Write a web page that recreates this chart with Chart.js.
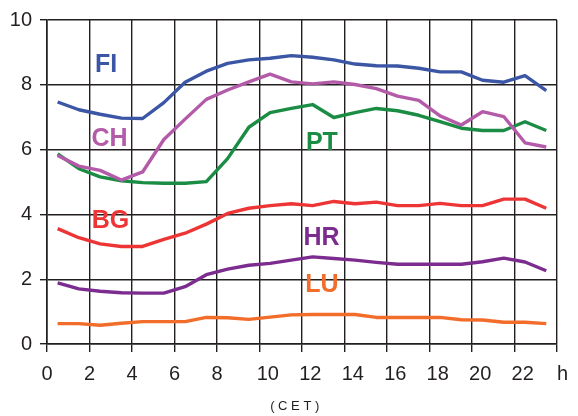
<!DOCTYPE html>
<html>
<head>
<meta charset="utf-8">
<script src="https://cdn.jsdelivr.net/npm/chart.js@4/dist/chart.umd.min.js"></script>
<style>
    html, body { margin: 0; padding: 0; background: #fff; }
    #wrap { width: 578px; height: 416px; }
</style>
</head>
<body>
<div id="wrap"><canvas id="loadChart" width="578" height="416"></canvas></div>
<script>
// Hourly values (h, CET)
const hours = [0.5, 1.5, 2.5, 3.5, 4.5, 5.5, 6.5, 7.5, 8.5, 9.5, 10.5, 11.5,
               12.5, 13.5, 14.5, 15.5, 16.5, 17.5, 18.5, 19.5, 20.5, 21.5, 22.5, 23.5];

const fi = [7.47, 7.23, 7.09, 6.97, 6.96, 7.45, 8.08, 8.42, 8.66, 8.77, 8.82, 8.90,
            8.85, 8.77, 8.64, 8.59, 8.58, 8.51, 8.40, 8.40, 8.14, 8.08, 8.28, 7.82];
const ch = [5.82, 5.49, 5.36, 5.06, 5.31, 6.31, 6.94, 7.55, 7.84, 8.09, 8.33, 8.09,
            8.03, 8.09, 8.01, 7.88, 7.65, 7.52, 7.04, 6.76, 7.17, 7.02, 6.21, 6.08];
const pt = [5.87, 5.41, 5.16, 5.04, 4.98, 4.96, 4.96, 5.01, 5.72, 6.69, 7.14, 7.27,
            7.39, 6.99, 7.14, 7.27, 7.20, 7.06, 6.86, 6.66, 6.59, 6.59, 6.86, 6.59];
const bg = [3.56, 3.28, 3.09, 3.01, 3.01, 3.23, 3.42, 3.70, 4.03, 4.19, 4.27, 4.33,
            4.27, 4.40, 4.33, 4.38, 4.27, 4.27, 4.34, 4.27, 4.27, 4.47, 4.47, 4.19];
const hr = [1.89, 1.70, 1.63, 1.58, 1.57, 1.57, 1.77, 2.14, 2.31, 2.43, 2.49, 2.59,
            2.69, 2.64, 2.59, 2.52, 2.46, 2.46, 2.46, 2.46, 2.54, 2.65, 2.53, 2.26];
const lu = [0.63, 0.63, 0.58, 0.64, 0.69, 0.69, 0.69, 0.82, 0.81, 0.76, 0.83, 0.90,
            0.91, 0.91, 0.91, 0.82, 0.82, 0.82, 0.82, 0.75, 0.74, 0.67, 0.67, 0.63];

const xTicks = [0, 2, 4, 6, 8, 10, 12, 14, 16, 18, 20, 22, 24];
const yTicks = [0, 2, 4, 6, 8, 10];

const series = [
    { name: 'FI', values: fi, color: '#3A56A5' },
    { name: 'CH', values: ch, color: '#B35AA8' },
    { name: 'PT', values: pt, color: '#1A8C44' },
    { name: 'BG', values: bg, color: '#EE3536' },
    { name: 'HR', values: hr, color: '#7B2C8E' },
    { name: 'LU', values: lu, color: '#F26C2A' }
];

// where each country name sits, in chart units (hour, value)
const nameSpots = { FI: [2.78, 8.64], CH: [2.94, 6.34], PT: [12.94, 6.23],
                    BG: [2.99, 3.83], HR: [12.92, 3.30], LU: [12.94, 1.85] };

const gridColor = '#231F20';
const font = 'Liberation Sans, Arial, sans-serif';

const seriesNames = {
    id: 'seriesNames',
    afterDatasetsDraw(chart) {
        const ctx = chart.ctx;
        const xs = chart.scales.x, ys = chart.scales.y;
        ctx.save();
        ctx.font = 'bold 25px ' + font;
        ctx.textAlign = 'center';
        ctx.textBaseline = 'middle';
        series.forEach(s => {
            const p = nameSpots[s.name];
            ctx.fillStyle = s.color;
            ctx.fillText(s.name, xs.getPixelForValue(p[0]), ys.getPixelForValue(p[1]) + 1);
        });
        ctx.restore();
    }
};

const ctx = document.getElementById('loadChart').getContext('2d');
new Chart(ctx, {
    type: 'line',
    data: {
        datasets: series.map(s => ({
            label: s.name,
            data: hours.map((h, i) => ({ x: h, y: s.values[i] })),
            borderColor: s.color,
            backgroundColor: s.color,
            borderWidth: 3.4,
            pointRadius: 0,
            tension: 0,
            borderJoinStyle: 'round',
            borderCapStyle: 'butt',
            fill: false
        }))
    },
    options: {
        responsive: false,
        animation: false,
        devicePixelRatio: 1,
        layout: { padding: { top: 17, right: 15, bottom: 0, left: 0 } },
        plugins: {
            legend: { display: false },
            tooltip: { enabled: false }
        },
        scales: {
            x: {
                type: 'linear',
                min: 0,
                max: 24,
                afterBuildTicks: scale => { scale.ticks = xTicks.map(v => ({ value: v })); },
                afterFit: scale => { scale.height = 72; },
                grid: { color: gridColor, lineWidth: 1.4, tickLength: 8, drawTicks: true },
                border: { color: gridColor, width: 1.6 },
                ticks: {
                    color: '#231F20',
                    font: { family: font, size: 20 },
                    padding: 10,
                    maxRotation: 0,
                    autoSkip: false,
                    callback: v => v === 24 ? '  h' : (v >= 10 ? '   ' + v : String(v))
                },
                title: {
                    display: true,
                    text: '( C E T )    ',
                    color: '#231F20',
                    font: { family: font, size: 13 },
                    padding: { top: 0, bottom: 2 }
                }
            },
            y: {
                min: 0,
                max: 10,
                afterBuildTicks: scale => { scale.ticks = yTicks.map(v => ({ value: v })); },
                afterFit: scale => { scale.width = 47; },
                grid: { color: gridColor, lineWidth: 1.4, tickLength: 7, drawTicks: true },
                border: { color: gridColor, width: 1.6 },
                ticks: {
                    color: '#231F20',
                    font: { family: font, size: 20 },
                    padding: 8
                }
            }
        }
    },
    plugins: [seriesNames]
});
</script>
</body>
</html>
